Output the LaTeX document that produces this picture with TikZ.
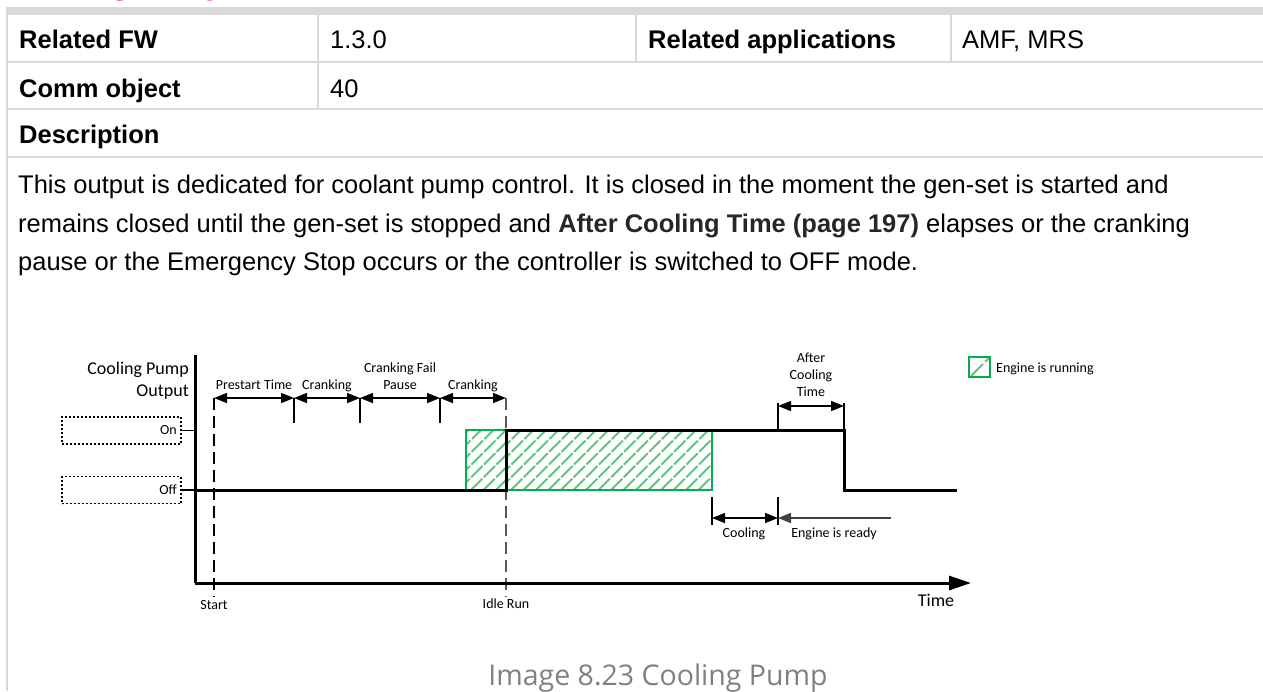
\documentclass[tikz,border=0pt]{standalone}
\usepackage{fontspec}
\setmainfont{Liberation Sans}
\newfontfamily\diafont{Carlito}
\newfontfamily\capfont{Open Sans}
\usetikzlibrary{arrows.meta}
\definecolor{tblgray}{RGB}{217,217,217}
\definecolor{grnborder}{RGB}{0,176,80}
\definecolor{grnhatch}{RGB}{95,196,128}
\definecolor{capgray}{RGB}{128,128,128}
\definecolor{headred}{RGB}{255,0,0}
\definecolor{idlegray}{RGB}{89,89,89}
\newcommand\hatchbox[4]{%
  \begin{scope}
    \clip (#1,#2) rectangle (#3,#4);
    \foreach \k in {0,...,26} {\draw[hatchline] ({#1-70+12.5*\k},#4) -- ++(70,-70);}
  \end{scope}}
\tikzset{
  tbl/.style={draw=tblgray, line width=1.5pt},
  cell/.style={anchor=base west, inner sep=0pt, font=\fontsize{25.5}{30}\selectfont},
  cellb/.style={anchor=base west, inner sep=0pt, font=\bfseries\fontsize{25.5}{30}\selectfont},
  lbl/.style={inner sep=0pt, font=\diafont\fontsize{14}{17}\selectfont},
  axisline/.style={line width=3pt},
  sig/.style={line width=3pt, line join=miter},
  dim/.style={line width=1.5pt, {Triangle[length=13pt,width=10pt]}-{Triangle[length=13pt,width=10pt]}},
  tickline/.style={line width=1.5pt},
  hatchline/.style={draw=grnhatch, line width=2pt, dash pattern=on 16pt off 2pt},
  grnbox/.style={draw=grnborder, line width=2pt},
  dotbox/.style={draw, line width=1.8pt, dash pattern=on 2pt off 2pt, minimum width=119pt, minimum height=27pt, inner sep=0pt},
  dashline/.style={line width=1.5pt, dash pattern=on 12pt off 6pt},
}
\begin{document}
\begin{tikzpicture}[x=1pt,y=-1pt]
\useasboundingbox (0,0) rectangle (1263,691);
\clip (0,0) rectangle (1263,691);
% heading (cut off at top)
\node[anchor=base west, inner sep=0pt, text=headred, font=\bfseries\fontsize{31}{36}\selectfont] (head) at (14,-5.5) {Cooling Pump};
% table
\fill[tblgray] (6,7) rectangle (1263,15);
\draw[tbl] (6,62) -- (1263,62);
\draw[tbl] (6,109) -- (1263,109);
\draw[tbl] (6,157) -- (1263,157);
\draw[tbl] (7,15) -- (7,691);
\draw[tbl] (318,15) -- (318,109);
\draw[tbl] (636,15) -- (636,62);
\draw[tbl] (951,15) -- (951,62);
\node[cellb] (t1) at (19,48) {Related FW};
\node[cell] (t2) at (330,48) {1.3.0};
\node[cellb] (t3) at (648,48) {Related applications};
\node[cell] (t4) at (962,48) {AMF, MRS};
\node[cellb] (t5) at (19,97) {Comm object};
\node[cell] (t6) at (330,97) {40};
\node[cellb] (t7) at (19,143) {Description};
\node[cell] (d1) at (18,193) {This output is dedicated for coolant pump control. It is closed in the moment the gen-set is started and};
\node[cell] (d2) at (18,232) {remains closed until the gen-set is stopped and {\bfseries\color{black!85}After Cooling Time (page 197)} elapses or the cranking};
\node[cell] (d3) at (18,270) {pause or the Emergency Stop occurs or the controller is switched to OFF mode.};
% green hatched areas
\hatchbox{466}{430}{506}{490}
\hatchbox{506}{430}{712}{490}
\draw[grnbox] (466,430) rectangle (506,490);
\draw[grnbox] (506,430) rectangle (712,490);
% coordinates
\coordinate (ytop) at (195,355);
\coordinate (org) at (195,583);
\coordinate (xend) at (971,583);
\coordinate (s0) at (195,490);
\coordinate (s1) at (506,490);
\coordinate (s2) at (506,430);
\coordinate (s3) at (844,430);
\coordinate (s4) at (844,490);
\coordinate (s5) at (957,490);
% dashed markers
\coordinate (st1) at (214,398);
\coordinate (st2) at (214,597);
\coordinate (id1) at (506,398);
\coordinate (id2) at (506,597);
\draw[dashline] (st1) -- (st2);
\draw[dashline, draw=idlegray] (id1) -- (id2);
% axes and signal
\draw[axisline] (ytop) -- (org);
\draw[axisline, -{Triangle[length=22pt,width=14pt]}] (org) -- (xend);
\draw[sig] (s0) -- (s1) -- (s2) -- (s3) -- (s4) -- (s5);
% top ticks
\coordinate (a1) at (294,398); \coordinate (a1b) at (294,423);
\coordinate (a2) at (360,398); \coordinate (a2b) at (360,423);
\coordinate (a3) at (440,398); \coordinate (a3b) at (440,423);
\draw[tickline] (a1) -- (a1b);
\draw[tickline] (a2) -- (a2b);
\draw[tickline] (a3) -- (a3b);
\draw[dim] (st1) -- (a1);
\draw[dim] (a1) -- (a2);
\draw[dim] (a2) -- (a3);
\draw[dim] (a3) -- (id1);
% after cooling
\coordinate (ac1) at (778,406); \coordinate (ac1b) at (778,430);
\coordinate (ac2) at (844,406); \coordinate (ac2b) at (844,430);
\draw[tickline] (778,403) -- (ac1b);
\draw[tickline] (844,403) -- (ac2b);
\draw[dim] (ac1) -- (ac2);
% cooling / engine is ready
\coordinate (c1t) at (712,497); \coordinate (c1b) at (712,525);
\coordinate (c2t) at (778,497); \coordinate (c2b) at (778,525);
\coordinate (c1) at (712,518); \coordinate (c2) at (778,518);
\coordinate (er) at (891,518);
\draw[tickline] (c1t) -- (c1b);
\draw[tickline] (c2t) -- (c2b);
\draw[dim] (c1) -- (c2);
\draw[line width=1.5pt, draw=black!75, -{Triangle[length=13pt,width=10pt]}] (er) -- (c2);
% On/Off boxes
\node[dotbox] (onbox) at (121.5,430.5) {};
\node[dotbox] (offbox) at (121.5,490) {};
\node[lbl, anchor=base east] (ontext) at (177,434) {On};
\node[lbl, anchor=base east] (offtext) at (177,494) {Off};
\draw[line width=1.2pt] (onbox.east) -- (195,430.5);
\draw[line width=1.2pt] (offbox.east) -- (195,490);
% labels
\node[lbl, font=\diafont\fontsize{18}{22}\selectfont, align=right, anchor=east] (ylab) at (189,381) {Cooling Pump\\Output};
\node[lbl, anchor=base] (l1) at (254,389) {Prestart Time};
\node[lbl, anchor=base] (l2) at (327,389) {Cranking};
\node[lbl, align=center] (l3) at (400,376) {Cranking Fail\\Pause};
\node[lbl, anchor=base] (l4) at (473,389) {Cranking};
\node[lbl, align=center] (l5) at (811,375) {After\\Cooling\\Time};
\node[lbl, anchor=base] (l6) at (744,537) {Cooling};
\node[lbl, anchor=base] (l7) at (834,537) {Engine is ready};
\node[lbl, anchor=base] (l8) at (214,609) {Start};
\node[lbl, anchor=base] (l9) at (506,608) {Idle Run};
\node[lbl, anchor=base, font=\diafont\fontsize{18}{22}\selectfont] (l10) at (936,606) {Time};
% legend
\begin{scope}
  \clip (969,357) rectangle (990,377);
  \draw[draw=grnhatch, line width=2pt, dash pattern=on 17pt off 3pt] (971,376) -- (990,357);
\end{scope}
\node[grnbox, minimum width=21pt, minimum height=20pt, inner sep=0pt] (legbox) at (979.5,367) {};
\node[lbl, anchor=base west] (legtext) at (996,372) {Engine is running};
% caption
\node[anchor=base, inner sep=0pt, text=capgray, font=\capfont\fontsize{28.5}{33}\selectfont] (cap) at (658,685) {Image 8.23 Cooling Pump};
\end{tikzpicture}
\end{document}
